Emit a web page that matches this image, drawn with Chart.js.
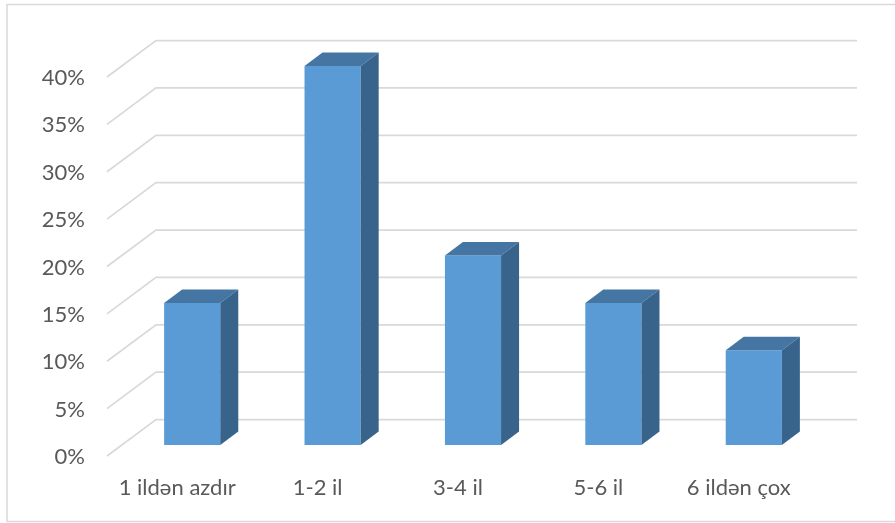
<!DOCTYPE html>
<html>
<head>
<meta charset="utf-8">
<script src="https://cdn.jsdelivr.net/npm/chart.js@4.4.1/dist/chart.umd.min.js"></script>
<style>
  html, body { margin: 0; padding: 0; background: #ffffff; }
  #wrap { position: relative; width: 895px; height: 523px; }
  canvas { display: block; }
</style>
</head>
<body>
<div id="wrap"><canvas id="chart" width="895" height="523"></canvas></div>
<script>
// Share of respondents by length of time
const categories = ['1 ildən azdır', '1-2 il', '3-4 il', '5-6 il', '6 ildən çox'];
const shares = [15, 40, 20, 15, 10];
const yTicks = [0, 5, 10, 15, 20, 25, 30, 35, 40];

// Oblique 3D look: bar depth and floor/wall offsets relative to the bar plane
const BAR_DEPTH = { dx: 18, dy: -13.5 };
const FLOOR_FRONT = { dx: -15, dy: 11 };
const WALL_BACK = { dx: 34, dy: -25.5 };
const FACE = { front: '#5B9BD5', top: '#4575A3', side: '#38638B' };

const frame = {
  id: 'frame',
  beforeDraw(chart) {
    const ctx = chart.ctx;
    ctx.save();
    ctx.strokeStyle = '#D9D9D9';
    ctx.lineWidth = 1.5;
    ctx.strokeRect(7, 4.5, 900, 517);
    ctx.restore();
  }
};

const wallGrid = {
  id: 'wallGrid',
  beforeDatasetsDraw(chart) {
    const { ctx, chartArea, scales } = chart;
    const y = scales.y;
    ctx.save();
    ctx.strokeStyle = '#D9D9D9';
    ctx.lineWidth = 1.75;
    y.ticks.forEach(t => {
      const p = y.getPixelForValue(t.value);
      ctx.beginPath();
      ctx.moveTo(chartArea.left + FLOOR_FRONT.dx, p + FLOOR_FRONT.dy);
      ctx.lineTo(chartArea.left + WALL_BACK.dx, p + WALL_BACK.dy);
      ctx.lineTo(chartArea.right + WALL_BACK.dx - 1, p + WALL_BACK.dy);
      ctx.stroke();
    });
    ctx.restore();
  }
};

const columns3d = {
  id: 'columns3d',
  afterDatasetsDraw(chart) {
    const ctx = chart.ctx;
    const poly = (pts, color) => {
      ctx.beginPath();
      ctx.moveTo(pts[0][0], pts[0][1]);
      for (let i = 1; i < pts.length; i++) ctx.lineTo(pts[i][0], pts[i][1]);
      ctx.closePath();
      ctx.fillStyle = color;
      ctx.fill();
    };
    ctx.save();
    chart.getDatasetMeta(0).data.forEach(bar => {
      const { x, y, base, width } = bar.getProps(['x', 'y', 'base', 'width'], true);
      const l = x - width / 2, r = x + width / 2;
      const dx = BAR_DEPTH.dx, dy = BAR_DEPTH.dy;
      poly([[l, y], [l + dx, y + dy], [r + dx, y + dy], [r, y]], FACE.top);
      poly([[r, y], [r + dx, y + dy], [r + dx, base + dy], [r, base]], FACE.side);
    });
    ctx.restore();
  }
};

const tickFont = { family: 'Lato, "Noto Sans", sans-serif', size: 22 };

new Chart(document.getElementById('chart'), {
  type: 'bar',
  data: {
    labels: categories,
    datasets: [{
      data: shares,
      backgroundColor: FACE.front,
      borderWidth: 0,
      categoryPercentage: 1,
      barPercentage: 0.4
    }]
  },
  options: {
    responsive: false,
    animation: false,
    devicePixelRatio: 1,
    layout: { padding: { top: 66, right: 71, left: 0, bottom: 0 } },
    plugins: { legend: { display: false }, tooltip: { enabled: false } },
    scales: {
      x: {
        grid: { display: false, drawTicks: false },
        border: { display: false },
        ticks: { color: '#595959', font: tickFont, padding: 30, labelOffset: -15, maxRotation: 0 },
        afterFit: s => { s.height = 78; }
      },
      y: {
        min: 0,
        max: 40,
        afterBuildTicks: s => { s.ticks = yTicks.map(v => ({ value: v })); },
        grid: { display: false, drawTicks: false },
        border: { display: false },
        ticks: { color: '#595959', font: tickFont, padding: 37, labelOffset: 12, callback: v => v + '%' },
        afterFit: s => { s.width = 122; }
      }
    }
  },
  plugins: [frame, wallGrid, columns3d]
});
</script>
</body>
</html>
